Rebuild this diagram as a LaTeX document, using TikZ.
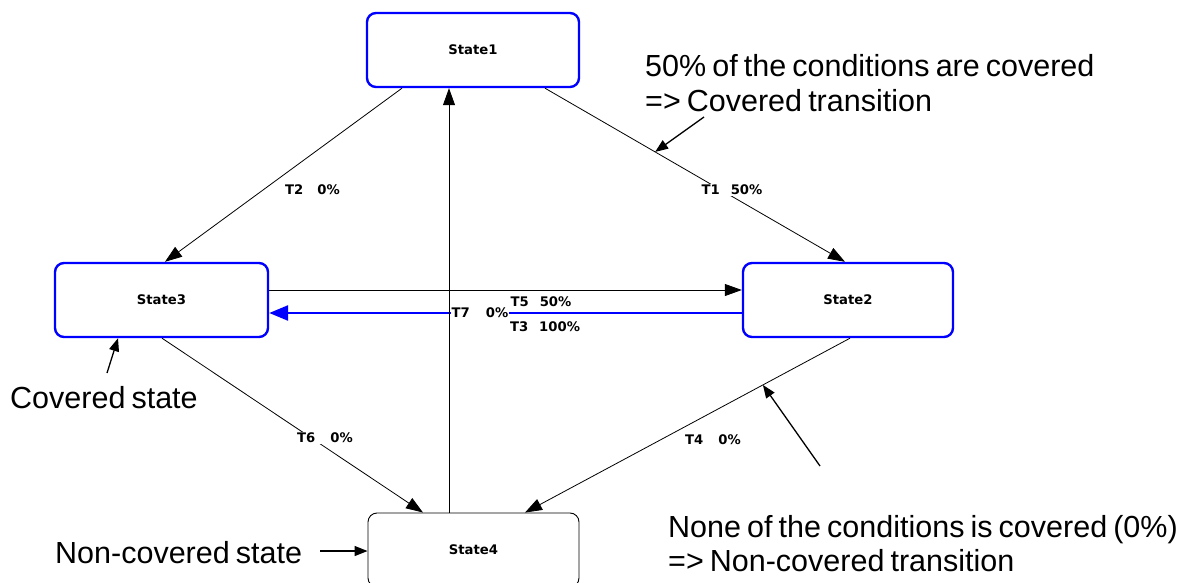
\documentclass[tikz,border=0pt]{standalone}
\usepackage{fontspec}
\setmainfont{Liberation Sans}
\newfontfamily\labfont{DejaVu Sans}
\usetikzlibrary{arrows.meta}
\newcommand\notefont{\fontsize{30.5}{36}\selectfont\spaceskip=0.2em\relax}
\begin{document}
\begin{tikzpicture}[x=1pt,y=-1pt,
  state/.style={draw=blue, line width=2.4pt, rounded corners=9pt, minimum width=212pt,
    minimum height=74pt, inner sep=0pt, font=\labfont\bfseries\fontsize{13.2}{15}\selectfont},
  plainstate/.style={state, draw=black, line width=0.9pt},
  tr/.style={draw=black, line width=0.8pt, -{Triangle[length=17pt,width=12pt]}},
  covtr/.style={draw=blue, line width=2.6pt, -{Triangle[length=19pt,width=15pt]}},
  lab/.style={font=\labfont\bfseries\fontsize{13.2}{15}\selectfont, inner sep=1pt},
  note/.style={font=\notefont, inner sep=0pt, anchor=base west},
  pointer/.style={draw=black, line width=1.3pt, -{Triangle[length=13pt,width=10pt]}}]
\clip (0,0) rectangle (1189,583);
\fill[white] (0,0) rectangle (1189,583);

% states
\node[state] (s1) at (473,50) {State1};
\node[state, minimum width=213pt] (s3) at (161.5,300) {State3};
\node[state, minimum width=210pt] (s2) at (848,300) {State2};
\node[plainstate, minimum width=211pt] (s4) at (473.5,550) {State4};

% transitions
\draw[tr] ([xshift=-71pt]s1.south) -- ([xshift=3.5pt]s3.north);
\draw[tr] ([xshift=72pt]s1.south) -- coordinate[pos=0.367] (m1) ([xshift=-3pt]s2.north);
\draw[tr] ([yshift=10pt]s3.east) -- ([yshift=10pt]s2.west);
\draw[covtr] ([yshift=-13pt]s2.west) -- ([yshift=-13pt]s3.east);
\draw[tr] ([xshift=0.5pt]s3.south) -- ([xshift=-50.5pt]s4.north);
\draw[tr] ([xshift=2pt]s2.south) -- coordinate[pos=0.268] (m4) ([xshift=51.5pt]s4.north);

% transition labels
\node[lab] (l2) at (312.5,190) {T2\hspace{14pt}0\%};
\node[lab, fill=white] (l1) at (732,190) {T1\hspace{11pt}50\%};
\node[lab, fill=white] (l6) at (325,438) {T6\hspace{15pt}0\%};
\node[lab] (l4) at (713,440) {T4\hspace{15pt}0\%};
\node[lab] (l5) at (541,302) {T5\hspace{11pt}50\%};
\node[lab, fill=white, anchor=west] (l7) at (450.5,313) {T7\hspace{16pt}0\%};
\node[lab] (l3) at (545,327) {T3\hspace{11pt}100\%};

\draw[tr] ([xshift=-24.5pt]s4.north) -- ([xshift=-24pt]s1.south);

% annotations
\node[note] (n1) at (645,77) {50\% of the conditions are covered};
\node[note] (n1b) at (645,112) {=> Covered transition};
\node[note] (n2) at (10,408) {Covered state};
\node[note] (n3) at (55,563) {Non-covered state};
\node[note] (n4) at (668,537) {None of the conditions is covered (0\%)};
\node[note] (n4b) at (668,571) {=> Non-covered transition};

\coordinate (a1) at (704,117);
\coordinate (a2) at (107,373);
\coordinate (a3) at (320,551);
\coordinate (a4) at (820,466);
\draw[pointer] (a1) -- (m1);
\draw[pointer] (a2) -- ([xshift=-43.5pt]s3.south);
\draw[pointer] (a3) -- (a3 -| s4.west);
\draw[pointer] (a4) -- (m4);
\end{tikzpicture}
\end{document}
